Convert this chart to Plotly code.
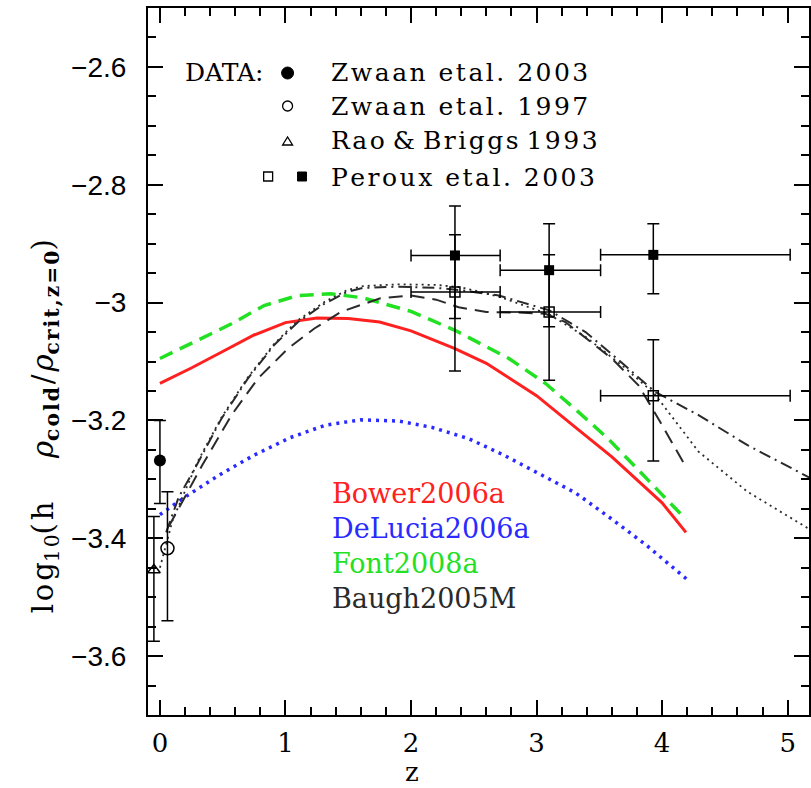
import plotly.graph_objects as go

# ---------------- data ----------------
# Model curves (redshift z, log10 density)
bower_z = [0.0, 0.25, 0.5, 0.75, 1.0, 1.25, 1.5, 1.75, 2.0, 2.35, 2.6, 3.0, 3.3, 3.6, 4.0, 4.19]
bower_y = [-3.137, -3.111, -3.083, -3.055, -3.034, -3.026, -3.027, -3.033, -3.048, -3.078,
           -3.103, -3.158, -3.21, -3.262, -3.34, -3.39]

delucia_z = [0.0, 0.2, 0.47, 0.75, 1.04, 1.32, 1.6, 1.9, 2.17, 2.46, 2.74, 3.02, 3.31, 3.59, 3.87, 4.2]
delucia_y = [-3.36, -3.33, -3.293, -3.259, -3.229, -3.208, -3.199, -3.201, -3.212, -3.231,
             -3.259, -3.29, -3.323, -3.366, -3.411, -3.47]

font_z = [0.0, 0.3, 0.57, 0.83, 1.1, 1.36, 1.62, 2.0, 2.35, 2.78, 3.07, 3.33, 3.57, 4.19]
font_y = [-3.095, -3.064, -3.036, -3.005, -2.988, -2.985, -2.992, -3.015, -3.047, -3.095,
          -3.137, -3.185, -3.231, -3.368]

baugh_dash_z = [0.07, 0.2, 0.34, 0.57, 0.78, 1.02, 1.23, 1.44, 1.62, 1.75, 2.0, 2.2, 2.38, 2.6,
                2.86, 3.07, 3.23, 3.6, 3.81, 3.97, 4.19]
baugh_dash_y = [-3.38, -3.33, -3.275, -3.191, -3.129, -3.078, -3.044, -3.016, -3.002, -2.993,
                -2.988, -2.995, -3.008, -3.016, -3.017, -3.019, -3.033, -3.095, -3.14, -3.197, -3.279]

baugh_dashdot_z = [0.05, 0.15, 0.3, 0.49, 0.7, 0.91, 1.1, 1.31, 1.49, 1.62, 1.9, 2.2, 2.4, 2.7,
                   3.1, 3.39, 3.7, 3.94, 4.29, 4.68, 5.2]
baugh_dashdot_y = [-3.39, -3.33, -3.273, -3.197, -3.129, -3.072, -3.033, -3.002, -2.982, -2.975,
                   -2.973, -2.975, -2.979, -2.988, -3.013, -3.05, -3.106, -3.151, -3.191, -3.242, -3.30]

baugh_dot_z = [0.0, 0.1, 0.3, 0.49, 0.7, 0.91, 1.1, 1.31, 1.49, 1.62, 1.9, 2.2, 2.4, 2.7,
               3.1, 3.39, 3.7, 3.94, 4.29, 4.68, 5.2]
baugh_dot_y = [-3.45, -3.37, -3.27, -3.195, -3.127, -3.07, -3.03, -2.999, -2.979, -2.972,
               -2.969, -2.970, -2.974, -2.99, -3.02, -3.058, -3.11, -3.155, -3.253, -3.321, -3.388]

# Observational data
zwaan03_z = [0.0]
zwaan03_y = [-3.268]
zwaan03_hi = [-3.20]
zwaan03_lo = [-3.341]

zwaan97_z = [0.06]
zwaan97_y = [-3.417]
zwaan97_hi = [-3.321]
zwaan97_lo = [-3.54]

rao_z = [-0.048]
rao_y = [-3.454]
rao_hi = [-3.363]
rao_lo = [-3.575]

peroux_z = [2.35, 3.10, 3.93]
peroux_zlo = [2.0, 2.71, 3.51]
peroux_zhi = [2.71, 3.51, 5.02]
peroux_filled_y = [-2.92, -2.945, -2.919]
peroux_filled_hi = [-2.836, -2.866, -2.866]
peroux_filled_lo = [-3.027, -3.041, -2.985]
peroux_open_y = [-2.982, -3.016, -3.158]
peroux_open_hi = [-2.885, -2.919, -3.063]
peroux_open_lo = [-3.116, -3.132, -3.269]

model_labels = ["Bower2006a", "DeLucia2006a", "Font2008a", "Baugh2005M"]
data_labels = ["Zwaan etal. 2003", "Zwaan etal. 1997", "Rao & Briggs 1993", "Peroux etal. 2003"]

x_ticks = [0, 1, 2, 3, 4, 5]
y_ticks = [-2.6, -2.8, -3.0, -3.2, -3.4, -3.6]
y_ticktext = ["\u22122.6", "\u22122.8", "\u22123", "\u22123.2", "\u22123.4", "\u22123.6"]

# ---------------- styling ----------------
RED = "#ff2020"
BLUE = "#2a2aff"
GREEN = "#22e022"
DARK = "#2a2a2a"
SERIF = "DejaVu Serif"
HAIR = "\u200a"

W, H = 811, 788
ML, MR, MT, MB = 148, 0, 8, 73
PW, PH = W - ML - MR, H - MT - MB


def px(xp):
    return (xp - ML) / PW


def py(yp):
    return (H - MB - yp) / PH


def diff(a, b):
    return [x - y for x, y in zip(a, b)]


def spaced(s, sp=HAIR, around_blank=True):
    out = ""
    for i, ch in enumerate(s):
        if i > 0:
            if around_blank or (ch != " " and s[i - 1] != " "):
                out += sp
        out += ch
    return out.replace("&", "&amp;")


fig = go.Figure()

# model curves
fig.add_trace(go.Scatter(x=bower_z, y=bower_y, mode="lines",
                         line=dict(color=RED, width=3)))
fig.add_trace(go.Scatter(x=delucia_z, y=delucia_y, mode="lines",
                         line=dict(color=BLUE, width=3.5, dash="3px,5px")))
fig.add_trace(go.Scatter(x=font_z, y=font_y, mode="lines",
                         line=dict(color=GREEN, width=3.5, dash="14px,8px")))
fig.add_trace(go.Scatter(x=baugh_dash_z, y=baugh_dash_y, mode="lines",
                         line=dict(color=DARK, width=2, dash="14px,8px")))
fig.add_trace(go.Scatter(x=baugh_dashdot_z, y=baugh_dashdot_y, mode="lines",
                         line=dict(color=DARK, width=2, dash="12px,5px,2px,5px")))
fig.add_trace(go.Scatter(x=baugh_dot_z, y=baugh_dot_y, mode="lines",
                         line=dict(color=DARK, width=1.8, dash="2px,4px")))

eb = dict(type="data", symmetric=False, color="black", thickness=1.5, width=6)

# Zwaan 2003
fig.add_trace(go.Scatter(x=zwaan03_z, y=zwaan03_y, mode="markers",
                         marker=dict(symbol="circle", size=12, color="black"),
                         error_y=dict(eb, array=diff(zwaan03_hi, zwaan03_y),
                                      arrayminus=diff(zwaan03_y, zwaan03_lo))))
# Zwaan 1997
fig.add_trace(go.Scatter(x=zwaan97_z, y=zwaan97_y, mode="markers",
                         marker=dict(symbol="circle-open", size=13, color="black",
                                     line=dict(width=1.5)),
                         error_y=dict(eb, array=diff(zwaan97_hi, zwaan97_y),
                                      arrayminus=diff(zwaan97_y, zwaan97_lo))))
# Rao & Briggs
fig.add_trace(go.Scatter(x=rao_z, y=rao_y, mode="markers",
                         marker=dict(symbol="triangle-up-open", size=11, color="black",
                                     line=dict(width=1.5)),
                         error_y=dict(eb, array=diff(rao_hi, rao_y),
                                      arrayminus=diff(rao_y, rao_lo))))
# Peroux open
fig.add_trace(go.Scatter(x=peroux_z, y=peroux_open_y, mode="markers",
                         marker=dict(symbol="square-open", size=10, color="black",
                                     line=dict(width=1.5)),
                         error_y=dict(eb, array=diff(peroux_open_hi, peroux_open_y),
                                      arrayminus=diff(peroux_open_y, peroux_open_lo)),
                         error_x=dict(eb, array=diff(peroux_zhi, peroux_z),
                                      arrayminus=diff(peroux_z, peroux_zlo))))
# Peroux filled
fig.add_trace(go.Scatter(x=peroux_z, y=peroux_filled_y, mode="markers",
                         marker=dict(symbol="square", size=10, color="black"),
                         error_y=dict(eb, array=diff(peroux_filled_hi, peroux_filled_y),
                                      arrayminus=diff(peroux_filled_y, peroux_filled_lo)),
                         error_x=dict(eb, array=diff(peroux_zhi, peroux_z),
                                      arrayminus=diff(peroux_z, peroux_zlo))))

annotations = []
# data legend text
annotations.append(dict(text="DATA:", x=px(183), y=py(73), xref="paper", yref="paper",
                        xanchor="left", yanchor="middle", showarrow=False,
                        font=dict(family=SERIF, size=25, color="black")))
for lab, yp in zip(data_labels, [73, 106, 141, 177]):
    txt = spaced(lab, HAIR, around_blank=("&" not in lab))
    annotations.append(dict(text=txt, x=px(330), y=py(yp), xref="paper", yref="paper",
                            xanchor="left", yanchor="middle", showarrow=False,
                            font=dict(family=SERIF, size=25, color="black")))
# model legend text
for lab, col, yp in zip(model_labels, [RED, BLUE, GREEN, DARK], [493, 528, 563, 598]):
    annotations.append(dict(text=lab, x=px(331), y=py(yp), xref="paper", yref="paper",
                            xanchor="left", yanchor="middle", showarrow=False,
                            font=dict(family=SERIF, size=27, color=col)))
# axis titles
ytitle = (spaced("log") + "<sub>" + spaced("10") + "</sub>" + spaced("(h") + "\u2003\u2002"
          + "<i>ρ</i><sub><b>" + spaced("cold") + "</b></sub>" + HAIR + "/" + HAIR
          + "<i>ρ</i><sub><b>" + spaced("crit,z=0") + "</b></sub>)")
annotations.append(dict(
    text=ytitle,
    x=px(45), y=py(426), xref="paper", yref="paper", textangle=-90,
    xanchor="center", yanchor="middle", showarrow=False,
    font=dict(family=SERIF, size=29, color="black")))
annotations.append(dict(text="z", x=px(413), y=py(772), xref="paper", yref="paper",
                        xanchor="center", yanchor="middle", showarrow=False,
                        font=dict(family=SERIF, size=26, color="black")))

# legend marker shapes
shapes = []
r = 6
shapes.append(dict(type="circle", xref="paper", yref="paper",
                   x0=px(288 - r), x1=px(288 + r), y0=py(73 + r), y1=py(73 - r),
                   fillcolor="black", line=dict(color="black", width=1)))
shapes.append(dict(type="circle", xref="paper", yref="paper",
                   x0=px(288 - 5), x1=px(288 + 5), y0=py(106 + 5), y1=py(106 - 5),
                   line=dict(color="black", width=1.3)))
shapes.append(dict(type="path", xref="paper", yref="paper",
                   path="M {} {} L {} {} L {} {} Z".format(px(283), py(145), px(293), py(145),
                                                          px(288), py(137)),
                   line=dict(color="black", width=1.3)))
shapes.append(dict(type="rect", xref="paper", yref="paper",
                   x0=px(264), x1=px(273), y0=py(181), y1=py(172),
                   line=dict(color="black", width=1.3)))
shapes.append(dict(type="rect", xref="paper", yref="paper",
                   x0=px(298), x1=px(307), y0=py(181), y1=py(172),
                   fillcolor="black", line=dict(color="black", width=1)))

fig.update_layout(
    width=W, height=H,
    margin=dict(l=ML, r=MR, t=MT, b=MB, pad=0),
    paper_bgcolor="white", plot_bgcolor="white",
    showlegend=False,
    annotations=annotations,
    shapes=shapes,
    xaxis=dict(range=[-0.095, 5.17], tickmode="array", tickvals=x_ticks,
               ticktext=[str(t) for t in x_ticks],
               ticks="inside", ticklen=15, tickwidth=2, tickcolor="black",
               showline=True, linewidth=2, linecolor="black", mirror="ticks",
               showgrid=False, zeroline=False,
               minor=dict(tick0=0, dtick=0.2, ticks="inside", ticklen=8, tickwidth=1.5,
                          tickcolor="black", showgrid=False),
               tickfont=dict(family=SERIF, size=26, color="black"),
               ticklabelstandoff=4),
    yaxis=dict(range=[-3.7, -2.5], tickmode="array", tickvals=y_ticks, ticktext=y_ticktext,
               ticks="inside", ticklen=15, tickwidth=2, tickcolor="black",
               showline=True, linewidth=2, linecolor="black", mirror="ticks",
               showgrid=False, zeroline=False,
               minor=dict(tick0=-2.6, dtick=0.05, ticks="inside", ticklen=8, tickwidth=1.5,
                          tickcolor="black", showgrid=False),
               tickfont=dict(family="Liberation Sans", size=28, color="black"),
               ticklabelstandoff=14),
)

fig.write_html("out.html")
